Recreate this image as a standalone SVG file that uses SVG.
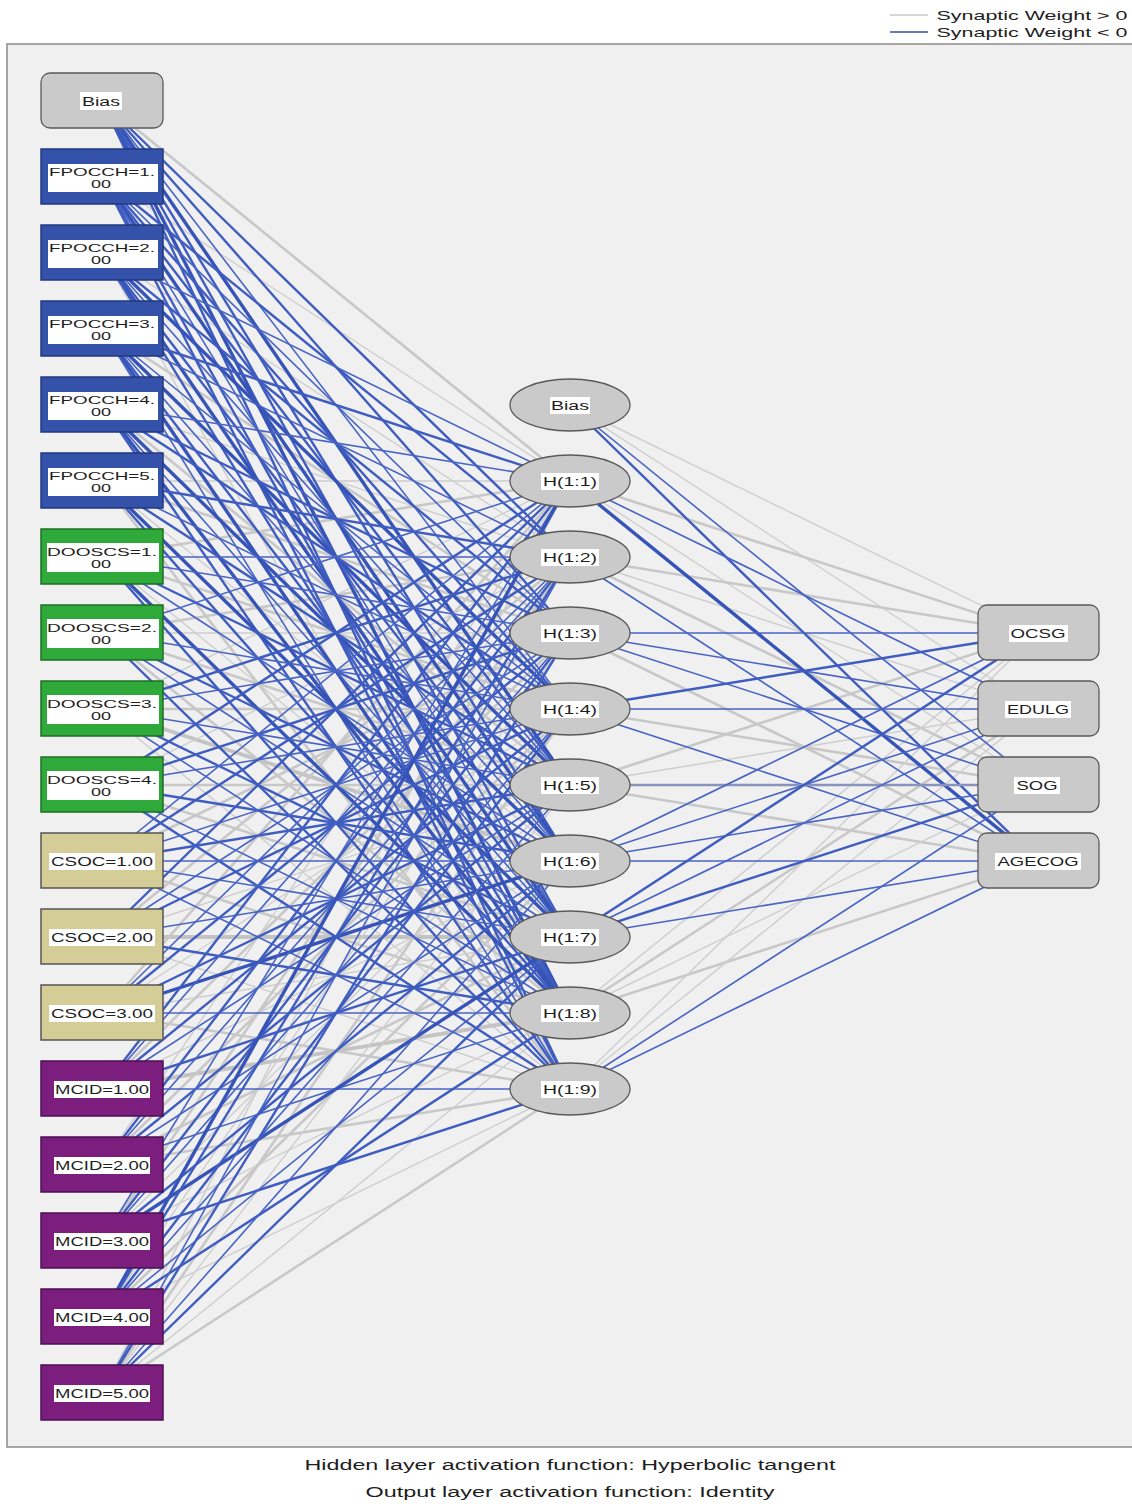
<svg xmlns="http://www.w3.org/2000/svg" width="1132" height="1504" viewBox="0 0 1132 1504">
<style>
text{font-family:"Liberation Sans",Arial,sans-serif;fill:#1e1e1e;text-anchor:middle}
.lbl{font-size:12.5px}
.p1{stroke:#cecece;stroke-width:1.4}
.p2{stroke:#c8c8c8;stroke-width:2.6}
.p3{stroke:#c3c3c3;stroke-width:3.8}
.n1{stroke:#4864c4;stroke-width:1.6}
.n2{stroke:#3f5cc0;stroke-width:2.4}
.n3{stroke:#3654b8;stroke-width:3.4}
.wb{fill:#ffffff}
.gnode{fill:#cacaca;stroke:#5a5a5a;stroke-width:1.3}
.fp{fill:#3452aa;stroke:#22387e;stroke-width:1.5}
.do{fill:#2ea93a;stroke:#1d6e26;stroke-width:1.5}
.cs{fill:#d5cd98;stroke:#555;stroke-width:1.5}
.mc{fill:#7c1e7e;stroke:#4a1050;stroke-width:1.5}
</style>
<rect x="0" y="0" width="1132" height="1504" fill="#ffffff"/>
<rect x="7" y="44" width="1130" height="1403" fill="#f0f0f0" stroke="#8a8a8a" stroke-width="1.5"/>
<g id="legend">
<line x1="890" y1="15" x2="928" y2="15" stroke="#c8c8c8" stroke-width="1.5"/>
<line x1="890" y1="32" x2="928" y2="32" stroke="#6678c0" stroke-width="1.8"/>
<text x="1032" y="20" font-size="13" textLength="191" lengthAdjust="spacingAndGlyphs">Synaptic Weight &gt; 0</text>
<text x="1032" y="37" font-size="13" textLength="191" lengthAdjust="spacingAndGlyphs">Synaptic Weight &lt; 0</text>
</g>
<g id="connectors" fill="none">
<line x1="102" y1="101" x2="570" y2="481" class="p2"/>
<line x1="102" y1="177" x2="570" y2="481" class="p1"/>
<line x1="102" y1="253" x2="570" y2="557" class="p1"/>
<line x1="102" y1="253" x2="570" y2="1089" class="p1"/>
<line x1="102" y1="329" x2="570" y2="633" class="p2"/>
<line x1="102" y1="405" x2="570" y2="557" class="p1"/>
<line x1="102" y1="405" x2="570" y2="785" class="p2"/>
<line x1="102" y1="481" x2="570" y2="481" class="p1"/>
<line x1="102" y1="481" x2="570" y2="633" class="p2"/>
<line x1="102" y1="481" x2="570" y2="861" class="p1"/>
<line x1="102" y1="481" x2="570" y2="1089" class="p2"/>
<line x1="102" y1="557" x2="570" y2="481" class="p2"/>
<line x1="102" y1="557" x2="570" y2="709" class="p2"/>
<line x1="102" y1="557" x2="570" y2="937" class="p1"/>
<line x1="102" y1="633" x2="570" y2="557" class="p2"/>
<line x1="102" y1="633" x2="570" y2="633" class="p1"/>
<line x1="102" y1="633" x2="570" y2="785" class="p2"/>
<line x1="102" y1="633" x2="570" y2="1013" class="p2"/>
<line x1="102" y1="709" x2="570" y2="481" class="p1"/>
<line x1="102" y1="709" x2="570" y2="709" class="p2"/>
<line x1="102" y1="709" x2="570" y2="861" class="p3"/>
<line x1="102" y1="709" x2="570" y2="1089" class="p1"/>
<line x1="102" y1="785" x2="570" y2="557" class="p1"/>
<line x1="102" y1="785" x2="570" y2="785" class="p2"/>
<line x1="102" y1="785" x2="570" y2="937" class="p2"/>
<line x1="102" y1="861" x2="570" y2="633" class="p2"/>
<line x1="102" y1="861" x2="570" y2="1013" class="p2"/>
<line x1="102" y1="937" x2="570" y2="557" class="p2"/>
<line x1="102" y1="937" x2="570" y2="785" class="p1"/>
<line x1="102" y1="937" x2="570" y2="937" class="p3"/>
<line x1="102" y1="937" x2="570" y2="1089" class="p1"/>
<line x1="102" y1="1013" x2="570" y2="481" class="p2"/>
<line x1="102" y1="1013" x2="570" y2="709" class="p1"/>
<line x1="102" y1="1013" x2="570" y2="937" class="p1"/>
<line x1="102" y1="1013" x2="570" y2="1089" class="p2"/>
<line x1="102" y1="1089" x2="570" y2="633" class="p2"/>
<line x1="102" y1="1089" x2="570" y2="861" class="p1"/>
<line x1="102" y1="1089" x2="570" y2="1013" class="p3"/>
<line x1="102" y1="1165" x2="570" y2="481" class="p1"/>
<line x1="102" y1="1165" x2="570" y2="709" class="p2"/>
<line x1="102" y1="1165" x2="570" y2="937" class="p2"/>
<line x1="102" y1="1165" x2="570" y2="1089" class="p2"/>
<line x1="102" y1="1241" x2="570" y2="557" class="p2"/>
<line x1="102" y1="1241" x2="570" y2="785" class="p1"/>
<line x1="102" y1="1241" x2="570" y2="1013" class="p1"/>
<line x1="102" y1="1317" x2="570" y2="633" class="p1"/>
<line x1="102" y1="1317" x2="570" y2="861" class="p2"/>
<line x1="102" y1="1317" x2="570" y2="1089" class="p1"/>
<line x1="102" y1="1393" x2="570" y2="481" class="p1"/>
<line x1="102" y1="1393" x2="570" y2="709" class="p2"/>
<line x1="102" y1="1393" x2="570" y2="785" class="p1"/>
<line x1="102" y1="1393" x2="570" y2="1013" class="p1"/>
<line x1="102" y1="1393" x2="570" y2="1089" class="p2"/>
<line x1="570" y1="405" x2="1038" y2="633" class="p1"/>
<line x1="570" y1="405" x2="1038" y2="709" class="p1"/>
<line x1="570" y1="481" x2="1038" y2="633" class="p2"/>
<line x1="570" y1="481" x2="1038" y2="785" class="p1"/>
<line x1="570" y1="557" x2="1038" y2="633" class="p2"/>
<line x1="570" y1="557" x2="1038" y2="709" class="p1"/>
<line x1="570" y1="557" x2="1038" y2="785" class="p2"/>
<line x1="570" y1="633" x2="1038" y2="861" class="p2"/>
<line x1="570" y1="709" x2="1038" y2="785" class="p2"/>
<line x1="570" y1="785" x2="1038" y2="633" class="p2"/>
<line x1="570" y1="785" x2="1038" y2="709" class="p1"/>
<line x1="570" y1="785" x2="1038" y2="861" class="p2"/>
<line x1="570" y1="1013" x2="1038" y2="633" class="p1"/>
<line x1="570" y1="1013" x2="1038" y2="709" class="p2"/>
<line x1="570" y1="1013" x2="1038" y2="785" class="p1"/>
<line x1="570" y1="1013" x2="1038" y2="861" class="p2"/>
<line x1="570" y1="1089" x2="1038" y2="633" class="p1"/>
<line x1="570" y1="1089" x2="1038" y2="709" class="p1"/>
<line x1="102" y1="101" x2="570" y2="557" class="n2"/>
<line x1="102" y1="101" x2="570" y2="633" class="n2"/>
<line x1="102" y1="101" x2="570" y2="709" class="n1"/>
<line x1="102" y1="101" x2="570" y2="785" class="n3"/>
<line x1="102" y1="101" x2="570" y2="861" class="n2"/>
<line x1="102" y1="101" x2="570" y2="937" class="n2"/>
<line x1="102" y1="101" x2="570" y2="1013" class="n3"/>
<line x1="102" y1="101" x2="570" y2="1089" class="n2"/>
<line x1="102" y1="177" x2="570" y2="557" class="n2"/>
<line x1="102" y1="177" x2="570" y2="633" class="n1"/>
<line x1="102" y1="177" x2="570" y2="709" class="n2"/>
<line x1="102" y1="177" x2="570" y2="785" class="n2"/>
<line x1="102" y1="177" x2="570" y2="861" class="n3"/>
<line x1="102" y1="177" x2="570" y2="937" class="n1"/>
<line x1="102" y1="177" x2="570" y2="1013" class="n2"/>
<line x1="102" y1="177" x2="570" y2="1089" class="n2"/>
<line x1="102" y1="253" x2="570" y2="481" class="n1"/>
<line x1="102" y1="253" x2="570" y2="633" class="n2"/>
<line x1="102" y1="253" x2="570" y2="709" class="n3"/>
<line x1="102" y1="253" x2="570" y2="785" class="n1"/>
<line x1="102" y1="253" x2="570" y2="861" class="n2"/>
<line x1="102" y1="253" x2="570" y2="937" class="n3"/>
<line x1="102" y1="253" x2="570" y2="1013" class="n2"/>
<line x1="102" y1="329" x2="570" y2="481" class="n2"/>
<line x1="102" y1="329" x2="570" y2="557" class="n1"/>
<line x1="102" y1="329" x2="570" y2="709" class="n1"/>
<line x1="102" y1="329" x2="570" y2="785" class="n3"/>
<line x1="102" y1="329" x2="570" y2="861" class="n1"/>
<line x1="102" y1="329" x2="570" y2="937" class="n2"/>
<line x1="102" y1="329" x2="570" y2="1013" class="n3"/>
<line x1="102" y1="329" x2="570" y2="1089" class="n1"/>
<line x1="102" y1="405" x2="570" y2="481" class="n1"/>
<line x1="102" y1="405" x2="570" y2="633" class="n2"/>
<line x1="102" y1="405" x2="570" y2="709" class="n2"/>
<line x1="102" y1="405" x2="570" y2="861" class="n3"/>
<line x1="102" y1="405" x2="570" y2="937" class="n1"/>
<line x1="102" y1="405" x2="570" y2="1013" class="n3"/>
<line x1="102" y1="405" x2="570" y2="1089" class="n2"/>
<line x1="102" y1="481" x2="570" y2="557" class="n2"/>
<line x1="102" y1="481" x2="570" y2="709" class="n1"/>
<line x1="102" y1="481" x2="570" y2="785" class="n2"/>
<line x1="102" y1="481" x2="570" y2="937" class="n3"/>
<line x1="102" y1="481" x2="570" y2="1013" class="n2"/>
<line x1="102" y1="557" x2="570" y2="557" class="n1"/>
<line x1="102" y1="557" x2="570" y2="633" class="n1"/>
<line x1="102" y1="557" x2="570" y2="785" class="n2"/>
<line x1="102" y1="557" x2="570" y2="861" class="n1"/>
<line x1="102" y1="557" x2="570" y2="1013" class="n3"/>
<line x1="102" y1="557" x2="570" y2="1089" class="n2"/>
<line x1="102" y1="633" x2="570" y2="481" class="n1"/>
<line x1="102" y1="633" x2="570" y2="709" class="n1"/>
<line x1="102" y1="633" x2="570" y2="861" class="n2"/>
<line x1="102" y1="633" x2="570" y2="937" class="n1"/>
<line x1="102" y1="633" x2="570" y2="1089" class="n2"/>
<line x1="102" y1="709" x2="570" y2="557" class="n2"/>
<line x1="102" y1="709" x2="570" y2="633" class="n1"/>
<line x1="102" y1="709" x2="570" y2="785" class="n1"/>
<line x1="102" y1="709" x2="570" y2="937" class="n2"/>
<line x1="102" y1="709" x2="570" y2="1013" class="n1"/>
<line x1="102" y1="785" x2="570" y2="481" class="n2"/>
<line x1="102" y1="785" x2="570" y2="633" class="n2"/>
<line x1="102" y1="785" x2="570" y2="709" class="n1"/>
<line x1="102" y1="785" x2="570" y2="861" class="n2"/>
<line x1="102" y1="785" x2="570" y2="1013" class="n1"/>
<line x1="102" y1="785" x2="570" y2="1089" class="n2"/>
<line x1="102" y1="861" x2="570" y2="481" class="n1"/>
<line x1="102" y1="861" x2="570" y2="557" class="n2"/>
<line x1="102" y1="861" x2="570" y2="709" class="n1"/>
<line x1="102" y1="861" x2="570" y2="785" class="n2"/>
<line x1="102" y1="861" x2="570" y2="861" class="n1"/>
<line x1="102" y1="861" x2="570" y2="937" class="n1"/>
<line x1="102" y1="861" x2="570" y2="1089" class="n1"/>
<line x1="102" y1="937" x2="570" y2="481" class="n2"/>
<line x1="102" y1="937" x2="570" y2="633" class="n1"/>
<line x1="102" y1="937" x2="570" y2="709" class="n2"/>
<line x1="102" y1="937" x2="570" y2="861" class="n1"/>
<line x1="102" y1="937" x2="570" y2="1013" class="n2"/>
<line x1="102" y1="1013" x2="570" y2="557" class="n1"/>
<line x1="102" y1="1013" x2="570" y2="633" class="n2"/>
<line x1="102" y1="1013" x2="570" y2="785" class="n2"/>
<line x1="102" y1="1013" x2="570" y2="861" class="n3"/>
<line x1="102" y1="1013" x2="570" y2="1013" class="n1"/>
<line x1="102" y1="1089" x2="570" y2="481" class="n2"/>
<line x1="102" y1="1089" x2="570" y2="557" class="n1"/>
<line x1="102" y1="1089" x2="570" y2="709" class="n2"/>
<line x1="102" y1="1089" x2="570" y2="785" class="n1"/>
<line x1="102" y1="1089" x2="570" y2="937" class="n2"/>
<line x1="102" y1="1089" x2="570" y2="1089" class="n1"/>
<line x1="102" y1="1165" x2="570" y2="557" class="n2"/>
<line x1="102" y1="1165" x2="570" y2="633" class="n1"/>
<line x1="102" y1="1165" x2="570" y2="785" class="n2"/>
<line x1="102" y1="1165" x2="570" y2="861" class="n1"/>
<line x1="102" y1="1165" x2="570" y2="1013" class="n1"/>
<line x1="102" y1="1241" x2="570" y2="481" class="n1"/>
<line x1="102" y1="1241" x2="570" y2="633" class="n2"/>
<line x1="102" y1="1241" x2="570" y2="709" class="n1"/>
<line x1="102" y1="1241" x2="570" y2="861" class="n2"/>
<line x1="102" y1="1241" x2="570" y2="937" class="n3"/>
<line x1="102" y1="1241" x2="570" y2="1089" class="n2"/>
<line x1="102" y1="1317" x2="570" y2="481" class="n3"/>
<line x1="102" y1="1317" x2="570" y2="557" class="n2"/>
<line x1="102" y1="1317" x2="570" y2="709" class="n2"/>
<line x1="102" y1="1317" x2="570" y2="785" class="n1"/>
<line x1="102" y1="1317" x2="570" y2="937" class="n1"/>
<line x1="102" y1="1317" x2="570" y2="1013" class="n2"/>
<line x1="102" y1="1393" x2="570" y2="557" class="n1"/>
<line x1="102" y1="1393" x2="570" y2="633" class="n2"/>
<line x1="102" y1="1393" x2="570" y2="861" class="n1"/>
<line x1="102" y1="1393" x2="570" y2="937" class="n2"/>
<line x1="570" y1="405" x2="1038" y2="785" class="n1"/>
<line x1="570" y1="405" x2="1038" y2="861" class="n2"/>
<line x1="570" y1="481" x2="1038" y2="709" class="n1"/>
<line x1="570" y1="481" x2="1038" y2="861" class="n3"/>
<line x1="570" y1="557" x2="1038" y2="861" class="n1"/>
<line x1="570" y1="633" x2="1038" y2="633" class="n1"/>
<line x1="570" y1="633" x2="1038" y2="709" class="n1"/>
<line x1="570" y1="633" x2="1038" y2="785" class="n1"/>
<line x1="570" y1="709" x2="1038" y2="633" class="n2"/>
<line x1="570" y1="709" x2="1038" y2="709" class="n1"/>
<line x1="570" y1="709" x2="1038" y2="861" class="n1"/>
<line x1="570" y1="785" x2="1038" y2="785" class="n2" style="stroke:#8894bc"/>
<line x1="570" y1="861" x2="1038" y2="633" class="n1"/>
<line x1="570" y1="861" x2="1038" y2="709" class="n1"/>
<line x1="570" y1="861" x2="1038" y2="785" class="n1"/>
<line x1="570" y1="861" x2="1038" y2="861" class="n1"/>
<line x1="570" y1="937" x2="1038" y2="633" class="n2"/>
<line x1="570" y1="937" x2="1038" y2="709" class="n1"/>
<line x1="570" y1="937" x2="1038" y2="785" class="n2"/>
<line x1="570" y1="937" x2="1038" y2="861" class="n1"/>
<line x1="570" y1="1089" x2="1038" y2="785" class="n1"/>
<line x1="570" y1="1089" x2="1038" y2="861" class="n1"/>
</g>
<g id="in-bias"><rect x="41" y="73" width="122" height="55" rx="9" class="gnode"/><rect x="80" y="92" width="42" height="18" class="wb"/><text x="101" y="106" class="lbl" textLength="38" lengthAdjust="spacingAndGlyphs">Bias</text></g>
<g id="in-fpocch1"><rect x="41" y="149" width="122" height="55" class="fp"/><rect x="48" y="164" width="110" height="28" class="wb"/><text x="102" y="176" font-size="11.5" textLength="106" lengthAdjust="spacingAndGlyphs">FPOCCH=1.</text><text x="101" y="188" font-size="11.5" textLength="20" lengthAdjust="spacingAndGlyphs">00</text></g>
<g id="in-fpocch2"><rect x="41" y="225" width="122" height="55" class="fp"/><rect x="48" y="240" width="110" height="28" class="wb"/><text x="102" y="252" font-size="11.5" textLength="106" lengthAdjust="spacingAndGlyphs">FPOCCH=2.</text><text x="101" y="264" font-size="11.5" textLength="20" lengthAdjust="spacingAndGlyphs">00</text></g>
<g id="in-fpocch3"><rect x="41" y="301" width="122" height="55" class="fp"/><rect x="48" y="316" width="110" height="28" class="wb"/><text x="102" y="328" font-size="11.5" textLength="106" lengthAdjust="spacingAndGlyphs">FPOCCH=3.</text><text x="101" y="340" font-size="11.5" textLength="20" lengthAdjust="spacingAndGlyphs">00</text></g>
<g id="in-fpocch4"><rect x="41" y="377" width="122" height="55" class="fp"/><rect x="48" y="392" width="110" height="28" class="wb"/><text x="102" y="404" font-size="11.5" textLength="106" lengthAdjust="spacingAndGlyphs">FPOCCH=4.</text><text x="101" y="416" font-size="11.5" textLength="20" lengthAdjust="spacingAndGlyphs">00</text></g>
<g id="in-fpocch5"><rect x="41" y="453" width="122" height="55" class="fp"/><rect x="48" y="468" width="110" height="28" class="wb"/><text x="102" y="480" font-size="11.5" textLength="106" lengthAdjust="spacingAndGlyphs">FPOCCH=5.</text><text x="101" y="492" font-size="11.5" textLength="20" lengthAdjust="spacingAndGlyphs">00</text></g>
<g id="in-dooscs1"><rect x="41" y="529" width="122" height="55" class="do"/><rect x="47" y="543" width="112" height="29" class="wb"/><text x="102" y="556" font-size="11.5" textLength="110" lengthAdjust="spacingAndGlyphs">DOOSCS=1.</text><text x="101" y="568" font-size="11.5" textLength="20" lengthAdjust="spacingAndGlyphs">00</text></g>
<g id="in-dooscs2"><rect x="41" y="605" width="122" height="55" class="do"/><rect x="47" y="619" width="112" height="29" class="wb"/><text x="102" y="632" font-size="11.5" textLength="110" lengthAdjust="spacingAndGlyphs">DOOSCS=2.</text><text x="101" y="644" font-size="11.5" textLength="20" lengthAdjust="spacingAndGlyphs">00</text></g>
<g id="in-dooscs3"><rect x="41" y="681" width="122" height="55" class="do"/><rect x="47" y="695" width="112" height="29" class="wb"/><text x="102" y="708" font-size="11.5" textLength="110" lengthAdjust="spacingAndGlyphs">DOOSCS=3.</text><text x="101" y="720" font-size="11.5" textLength="20" lengthAdjust="spacingAndGlyphs">00</text></g>
<g id="in-dooscs4"><rect x="41" y="757" width="122" height="55" class="do"/><rect x="47" y="771" width="112" height="29" class="wb"/><text x="102" y="784" font-size="11.5" textLength="110" lengthAdjust="spacingAndGlyphs">DOOSCS=4.</text><text x="101" y="796" font-size="11.5" textLength="20" lengthAdjust="spacingAndGlyphs">00</text></g>
<g id="in-csoc1"><rect x="41" y="833" width="122" height="55" class="cs"/><rect x="49" y="853" width="106" height="17" class="wb"/><text x="102" y="866" class="lbl" textLength="102" lengthAdjust="spacingAndGlyphs">CSOC=1.00</text></g>
<g id="in-csoc2"><rect x="41" y="909" width="122" height="55" class="cs"/><rect x="49" y="929" width="106" height="17" class="wb"/><text x="102" y="942" class="lbl" textLength="102" lengthAdjust="spacingAndGlyphs">CSOC=2.00</text></g>
<g id="in-csoc3"><rect x="41" y="985" width="122" height="55" class="cs"/><rect x="49" y="1005" width="106" height="17" class="wb"/><text x="102" y="1018" class="lbl" textLength="102" lengthAdjust="spacingAndGlyphs">CSOC=3.00</text></g>
<g id="in-mcid1"><rect x="41" y="1061" width="122" height="55" class="mc"/><rect x="54" y="1081" width="96" height="17" class="wb"/><text x="102" y="1094" class="lbl" textLength="94" lengthAdjust="spacingAndGlyphs">MCID=1.00</text></g>
<g id="in-mcid2"><rect x="41" y="1137" width="122" height="55" class="mc"/><rect x="54" y="1157" width="96" height="17" class="wb"/><text x="102" y="1170" class="lbl" textLength="94" lengthAdjust="spacingAndGlyphs">MCID=2.00</text></g>
<g id="in-mcid3"><rect x="41" y="1213" width="122" height="55" class="mc"/><rect x="54" y="1233" width="96" height="17" class="wb"/><text x="102" y="1246" class="lbl" textLength="94" lengthAdjust="spacingAndGlyphs">MCID=3.00</text></g>
<g id="in-mcid4"><rect x="41" y="1289" width="122" height="55" class="mc"/><rect x="54" y="1309" width="96" height="17" class="wb"/><text x="102" y="1322" class="lbl" textLength="94" lengthAdjust="spacingAndGlyphs">MCID=4.00</text></g>
<g id="in-mcid5"><rect x="41" y="1365" width="122" height="55" class="mc"/><rect x="54" y="1385" width="96" height="17" class="wb"/><text x="102" y="1398" class="lbl" textLength="94" lengthAdjust="spacingAndGlyphs">MCID=5.00</text></g>
<g id="hid-bias"><ellipse cx="570" cy="405" rx="60" ry="26" class="gnode"/><rect x="550" y="397" width="40" height="17" class="wb"/><text x="570" y="410" class="lbl" textLength="38" lengthAdjust="spacingAndGlyphs">Bias</text></g>
<g id="h1"><ellipse cx="570" cy="481" rx="60" ry="26" class="gnode"/><rect x="541" y="473" width="58" height="17" class="wb"/><text x="570" y="486" class="lbl" textLength="54" lengthAdjust="spacingAndGlyphs">H(1:1)</text></g>
<g id="h2"><ellipse cx="570" cy="557" rx="60" ry="26" class="gnode"/><rect x="541" y="549" width="58" height="17" class="wb"/><text x="570" y="562" class="lbl" textLength="54" lengthAdjust="spacingAndGlyphs">H(1:2)</text></g>
<g id="h3"><ellipse cx="570" cy="633" rx="60" ry="26" class="gnode"/><rect x="541" y="625" width="58" height="17" class="wb"/><text x="570" y="638" class="lbl" textLength="54" lengthAdjust="spacingAndGlyphs">H(1:3)</text></g>
<g id="h4"><ellipse cx="570" cy="709" rx="60" ry="26" class="gnode"/><rect x="541" y="701" width="58" height="17" class="wb"/><text x="570" y="714" class="lbl" textLength="54" lengthAdjust="spacingAndGlyphs">H(1:4)</text></g>
<g id="h5"><ellipse cx="570" cy="785" rx="60" ry="26" class="gnode"/><rect x="541" y="777" width="58" height="17" class="wb"/><text x="570" y="790" class="lbl" textLength="54" lengthAdjust="spacingAndGlyphs">H(1:5)</text></g>
<g id="h6"><ellipse cx="570" cy="861" rx="60" ry="26" class="gnode"/><rect x="541" y="853" width="58" height="17" class="wb"/><text x="570" y="866" class="lbl" textLength="54" lengthAdjust="spacingAndGlyphs">H(1:6)</text></g>
<g id="h7"><ellipse cx="570" cy="937" rx="60" ry="26" class="gnode"/><rect x="541" y="929" width="58" height="17" class="wb"/><text x="570" y="942" class="lbl" textLength="54" lengthAdjust="spacingAndGlyphs">H(1:7)</text></g>
<g id="h8"><ellipse cx="570" cy="1013" rx="60" ry="26" class="gnode"/><rect x="541" y="1005" width="58" height="17" class="wb"/><text x="570" y="1018" class="lbl" textLength="54" lengthAdjust="spacingAndGlyphs">H(1:8)</text></g>
<g id="h9"><ellipse cx="570" cy="1089" rx="60" ry="26" class="gnode"/><rect x="541" y="1081" width="58" height="17" class="wb"/><text x="570" y="1094" class="lbl" textLength="54" lengthAdjust="spacingAndGlyphs">H(1:9)</text></g>
<g id="out-ocsg"><rect x="978" y="605" width="121" height="55" rx="9" class="gnode"/><rect x="1009" y="625" width="59" height="17" class="wb"/><text x="1038" y="638" class="lbl" textLength="55" lengthAdjust="spacingAndGlyphs">OCSG</text></g>
<g id="out-edulg"><rect x="978" y="681" width="121" height="55" rx="9" class="gnode"/><rect x="1005" y="701" width="66" height="17" class="wb"/><text x="1038" y="714" class="lbl" textLength="62" lengthAdjust="spacingAndGlyphs">EDULG</text></g>
<g id="out-sog"><rect x="978" y="757" width="121" height="55" rx="9" class="gnode"/><rect x="1014" y="777" width="46" height="17" class="wb"/><text x="1037" y="790" class="lbl" textLength="41" lengthAdjust="spacingAndGlyphs">SOG</text></g>
<g id="out-agecog"><rect x="978" y="833" width="121" height="55" rx="9" class="gnode"/><rect x="995" y="853" width="86" height="17" class="wb"/><text x="1038" y="866" class="lbl" textLength="81" lengthAdjust="spacingAndGlyphs">AGECOG</text></g>
<g id="footer">
<text x="570" y="1470" font-size="14" textLength="531" lengthAdjust="spacingAndGlyphs">Hidden layer activation function: Hyperbolic tangent</text>
<text x="570" y="1497" font-size="14" textLength="409" lengthAdjust="spacingAndGlyphs">Output layer activation function: Identity</text>
</g>
</svg>
